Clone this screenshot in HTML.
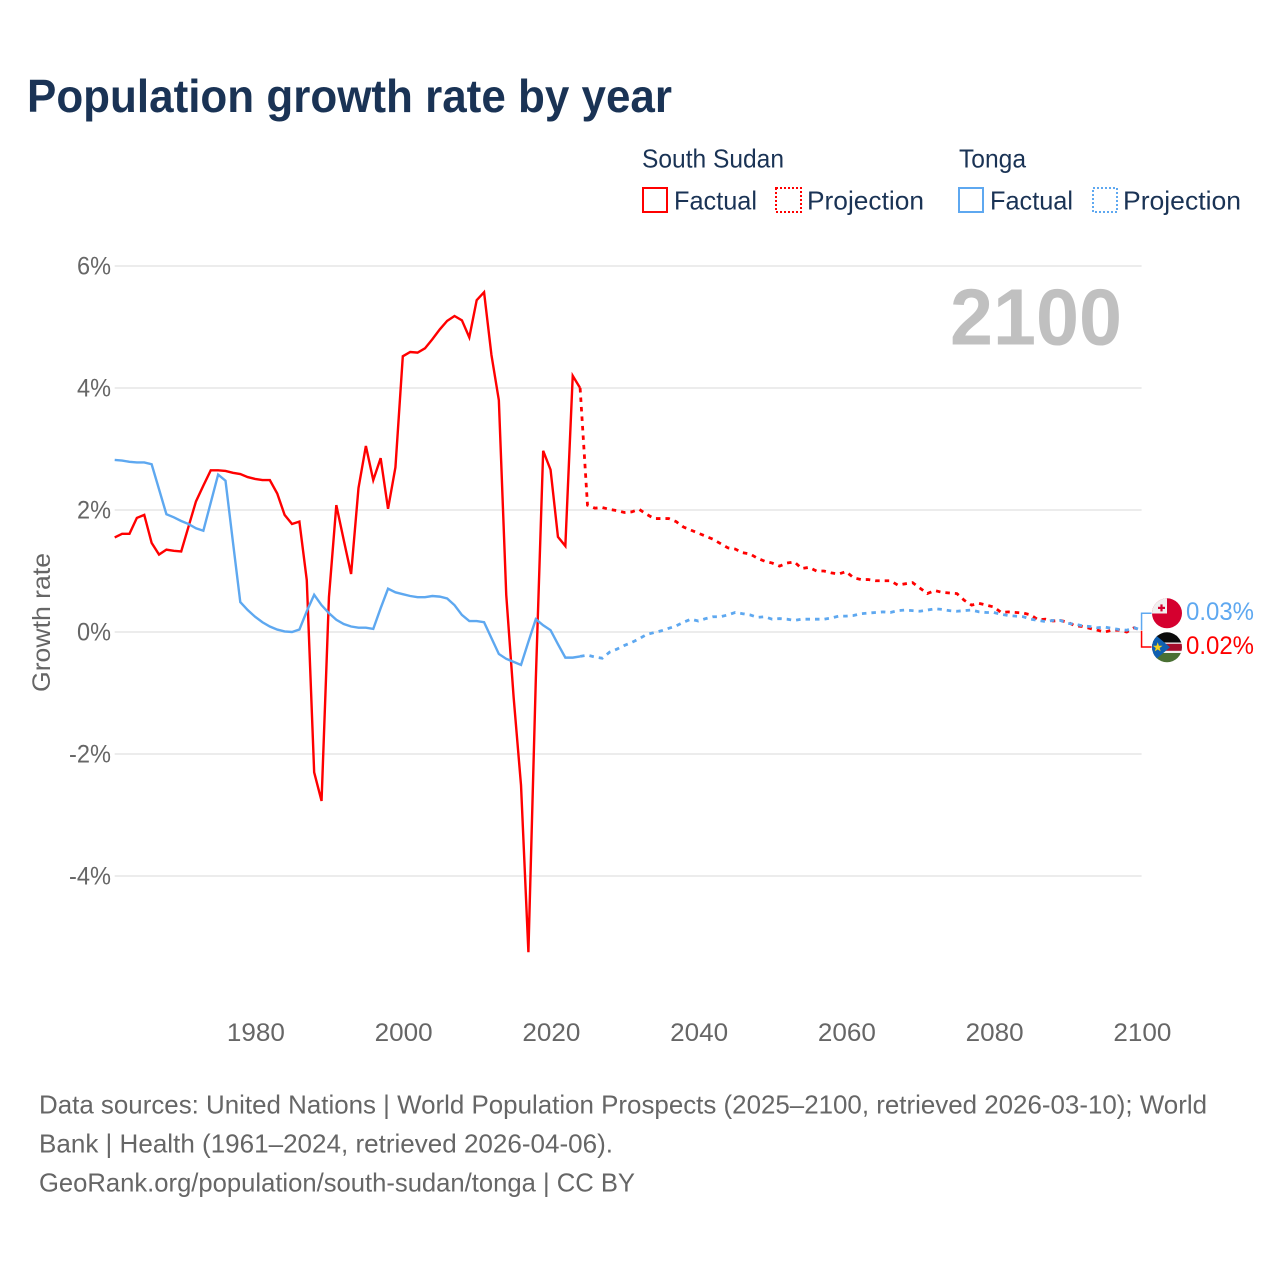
<!DOCTYPE html>
<html lang="en">
<head>
<meta charset="utf-8">
<title>Population growth rate by year</title>
<style>
html,body{margin:0;padding:0;background:#fff;}
body{width:1280px;height:1280px;overflow:hidden;}
svg{display:block;font-family:"Liberation Sans",sans-serif;}
</style>
</head>
<body>
<svg id="chart" width="1280" height="1280" viewBox="0 0 1280 1280" xmlns="http://www.w3.org/2000/svg">
  <defs>
    <clipPath id="clip-tonga"><circle cx="1167" cy="613.3" r="15"/></clipPath>
    <clipPath id="clip-ssd"><circle cx="1167" cy="647.3" r="15"/></clipPath>
  </defs>
  <rect width="1280" height="1280" fill="#fff"/>
  <text x="27" y="112" font-size="46" font-weight="700" fill="#1a3355" textLength="645" lengthAdjust="spacingAndGlyphs">Population growth rate by year</text>

  <g font-size="26" fill="#1a3355">
    <text x="642" y="167.5" textLength="142" lengthAdjust="spacingAndGlyphs">South Sudan</text>
    <text x="959" y="167.5" textLength="67" lengthAdjust="spacingAndGlyphs">Tonga</text>
    <rect x="643" y="188" width="24" height="24" fill="none" stroke="#ff0000" stroke-width="2"/>
    <text x="674" y="209.5" textLength="83" lengthAdjust="spacingAndGlyphs">Factual</text>
    <rect x="776" y="188" width="25" height="24" fill="none" stroke="#ff0000" stroke-width="2" stroke-dasharray="2 2"/>
    <text x="807" y="209.5" textLength="117" lengthAdjust="spacingAndGlyphs">Projection</text>
    <rect x="959" y="188" width="24" height="24" fill="none" stroke="#5ea8f0" stroke-width="2"/>
    <text x="990" y="209.5" textLength="83" lengthAdjust="spacingAndGlyphs">Factual</text>
    <rect x="1093" y="188" width="24" height="24" fill="none" stroke="#5ea8f0" stroke-width="2" stroke-dasharray="2 2"/>
    <text x="1123" y="209.5" textLength="118" lengthAdjust="spacingAndGlyphs">Projection</text>
  </g>

  <g id="grid"></g>
  <g id="y-ticks" font-size="25" fill="#666" text-anchor="end"></g>
  <g id="x-ticks" font-size="25" fill="#666" text-anchor="middle"></g>
  <text transform="translate(50,622.5) rotate(-90)" font-size="25" fill="#666" text-anchor="middle" textLength="139" lengthAdjust="spacingAndGlyphs">Growth rate</text>
  <text x="950" y="344.5" font-size="80" font-weight="700" fill="#c0c0c0" textLength="172" lengthAdjust="spacingAndGlyphs">2100</text>

  <g id="series"></g>
  <g id="connectors"></g>

  <g clip-path="url(#clip-tonga)">
    <rect x="1152" y="598" width="30" height="31" fill="#d5002f"/>
    <rect x="1152" y="598" width="15" height="15.5" fill="#f0f0f0"/>
    <rect x="1158" y="606.8" width="7" height="2.2" fill="#d5002f"/>
    <rect x="1160.4" y="604.4" width="2.2" height="7" fill="#d5002f"/>
  </g>
  <g clip-path="url(#clip-ssd)">
    <rect x="1152" y="632" width="30" height="11" fill="#0b0b0b"/>
    <rect x="1152" y="642.5" width="30" height="10.5" fill="#f2f2f2"/>
    <rect x="1152" y="643.8" width="30" height="7" fill="#a50d2b"/>
    <rect x="1152" y="653" width="30" height="10" fill="#4a7034"/>
    <polygon points="1152,632 1170,647.3 1152,662.6" fill="#0f5fb0"/>
    <polygon points="1157.7,642.3 1158.9,645.7 1162.5,645.8 1159.6,648 1160.7,651.4 1157.7,649.4 1154.7,651.4 1155.8,648 1152.9,645.8 1156.5,645.7" fill="#f6d21c"/>
  </g>
  <text id="label-tonga" x="1186" y="620" font-size="25" fill="#5ea8f0" textLength="68" lengthAdjust="spacingAndGlyphs">0.03%</text>
  <text id="label-ssd" x="1186" y="654" font-size="25" fill="#ff0000" textLength="68" lengthAdjust="spacingAndGlyphs">0.02%</text>

  <g font-size="26" fill="#666">
    <text x="39" y="1113.5" textLength="1168" lengthAdjust="spacingAndGlyphs">Data sources: United Nations | World Population Prospects (2025–2100, retrieved 2026-03-10); World</text>
    <text x="39" y="1152.5" textLength="574" lengthAdjust="spacingAndGlyphs">Bank | Health (1961–2024, retrieved 2026-04-06).</text>
    <text x="39" y="1191.5" textLength="596" lengthAdjust="spacingAndGlyphs">GeoRank.org/population/south-sudan/tonga | CC BY</text>
  </g>
</svg>
<script>
const factualStartYear = 1961;
const projectionStartYear = 2024;
const yTickValues = [6, 4, 2, 0, -2, -4];
const xTickYears = [1980, 2000, 2020, 2040, 2060, 2080, 2100];

const southSudanFactual = [
  1.55,1.61,1.61,1.87,1.92,1.46,1.27,1.35,1.33,1.32,
  1.73,2.14,2.40,2.65,2.65,2.64,2.61,2.59,2.54,2.51,
  2.49,2.49,2.27,1.92,1.77,1.81,0.85,-2.30,-2.77,0.57,
  2.08,1.51,0.95,2.36,3.05,2.49,2.85,2.02,2.70,4.52,
  4.59,4.58,4.65,4.80,4.96,5.10,5.18,5.11,4.83,5.44,
  5.57,4.54,3.80,0.61,-1.07,-2.51,-5.25,-0.79,2.97,2.66,
  1.56,1.41,4.20,4.00
];
const southSudanProjection = [
  4.00,2.08,2.03,2.04,2.01,1.99,1.96,1.97,2.01,1.93,1.86,1.86,1.86,
  1.81,1.72,1.67,1.62,1.57,1.52,1.45,1.38,1.36,1.30,1.28,1.21,1.16,1.13,
  1.08,1.13,1.15,1.04,1.06,1.00,1.00,0.97,0.95,0.99,0.89,0.86,0.86,0.84,0.84,
  0.84,0.77,0.79,0.81,0.72,0.63,0.68,0.65,0.64,0.63,0.52,0.44,0.47,0.44,0.41,
  0.32,0.33,0.32,0.31,0.28,0.20,0.21,0.18,0.19,0.16,0.10,0.09,0.06,0.03,0.00,
  0.03,0.03,0.00,0.07,0.02
];
const tongaFactual = [
  2.82,2.81,2.79,2.78,2.78,2.75,2.34,1.93,1.88,1.82,
  1.77,1.70,1.66,2.12,2.58,2.48,1.48,0.49,0.36,0.25,
  0.16,0.09,0.04,0.01,0.00,0.04,0.34,0.61,0.44,0.31,
  0.20,0.13,0.09,0.07,0.07,0.05,0.39,0.71,0.65,0.62,
  0.59,0.57,0.57,0.59,0.58,0.55,0.44,0.28,0.18,0.18,
  0.16,-0.10,-0.36,-0.44,-0.49,-0.54,-0.16,0.21,0.11,0.03,
  -0.20,-0.42,-0.42,-0.40
];
const tongaProjection = [
  -0.40,-0.38,-0.41,-0.43,-0.33,-0.28,-0.22,-0.17,-0.11,-0.04,-0.01,0.02,0.06,
  0.10,0.16,0.21,0.18,0.22,0.25,0.25,0.28,0.32,0.30,0.28,0.24,0.25,0.21,
  0.22,0.21,0.19,0.21,0.21,0.21,0.21,0.23,0.26,0.26,0.27,0.30,0.31,0.32,0.33,
  0.32,0.35,0.36,0.35,0.34,0.36,0.38,0.37,0.35,0.34,0.35,0.36,0.33,0.32,0.32,
  0.29,0.27,0.26,0.25,0.21,0.19,0.17,0.19,0.19,0.14,0.13,0.10,0.09,0.07,0.08,
  0.06,0.04,0.03,0.07,0.03
];

const NS = 'http://www.w3.org/2000/svg';
const RED = '#ff0000';
const BLUE = '#5ea8f0';
function xScale(year) { return 114.7 + (year - 1961) * 7.3875; }
function yScale(value) { return 632 - value * 61; }

function buildPath(values, startYear) {
  return values.map(function (v, i) {
    return (i ? 'L' : 'M') + xScale(startYear + i).toFixed(2) + ' ' + yScale(v).toFixed(2);
  }).join(' ');
}

const gridGroup = document.getElementById('grid');
const yTickGroup = document.getElementById('y-ticks');
yTickValues.forEach(function (t) {
  const line = document.createElementNS(NS, 'line');
  
  
  line.setAttribute('x1', xScale(1961));
  line.setAttribute('x2', xScale(2100));
  line.setAttribute('y1', yScale(t));
  line.setAttribute('y2', yScale(t));
  line.setAttribute('stroke', '#ececec');
  line.setAttribute('stroke-width', '2');
  gridGroup.appendChild(line);
  const label = document.createElementNS(NS, 'text');
  
  
  label.setAttribute('x', 111);
  label.setAttribute('y', yScale(t) + 8.5);
  label.setAttribute('textLength', t < 0 ? '42' : '34');
  label.setAttribute('lengthAdjust', 'spacingAndGlyphs');
  label.textContent = t + '%';
  yTickGroup.appendChild(label);
});

const xTickGroup = document.getElementById('x-ticks');
xTickYears.forEach(function (y) {
  const label = document.createElementNS(NS, 'text');
  
  
  label.setAttribute('x', xScale(y) + 0.8);
  label.setAttribute('y', 1041);
  label.setAttribute('textLength', '58');
  label.setAttribute('lengthAdjust', 'spacingAndGlyphs');
  label.textContent = y;
  xTickGroup.appendChild(label);
});

const seriesGroup = document.getElementById('series');
function addLine(values, startYear, color, dashed, name) {
  const path = document.createElementNS(NS, 'path');
  
  
  path.setAttribute('d', buildPath(values, startYear));
  path.setAttribute('fill', 'none');
  path.setAttribute('stroke', color);
  path.setAttribute('stroke-width', dashed ? '2.8' : '2.4');
  path.setAttribute('stroke-linejoin', 'miter');
  if (dashed) path.setAttribute('stroke-dasharray', '4.5 5');
  seriesGroup.appendChild(path);
}
addLine(southSudanFactual, factualStartYear, RED, false, 'south-sudan-factual-line');
addLine(tongaFactual, factualStartYear, BLUE, false, 'tonga-factual-line');
addLine(southSudanProjection, projectionStartYear, RED, true, 'south-sudan-projection-line');
addLine(tongaProjection, projectionStartYear, BLUE, true, 'tonga-projection-line');

const connectorGroup = document.getElementById('connectors');
function addConnector(value, labelY, color, name) {
  const path = document.createElementNS(NS, 'path');
  
  
  const x = xScale(2100);
  path.setAttribute('d', 'M' + x + ' ' + yScale(value).toFixed(2) + ' V' + labelY + ' H' + (x + 10));
  path.setAttribute('fill', 'none');
  path.setAttribute('stroke', color);
  path.setAttribute('stroke-width', '1.5');
  connectorGroup.appendChild(path);
}
addConnector(tongaProjection[tongaProjection.length - 1], 613.3, BLUE, 'tonga-connector');
addConnector(southSudanProjection[southSudanProjection.length - 1], 647, RED, 'south-sudan-connector');
</script>
</body>
</html>
